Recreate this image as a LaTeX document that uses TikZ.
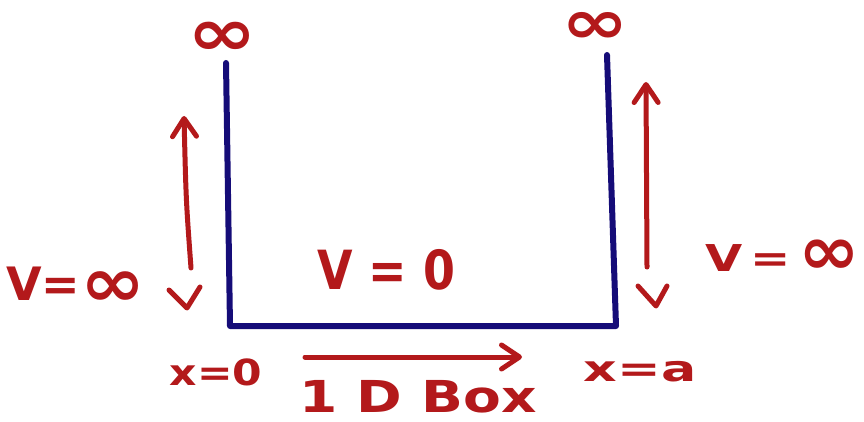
\documentclass[tikz,border=0pt]{standalone}
\usepackage{fontspec}
\usepackage{graphicx}
\setmainfont{DejaVu Sans}
\usetikzlibrary{arrows.meta}
\definecolor{inkred}{HTML}{B3191B}
\definecolor{inkblue}{HTML}{150C78}
\newcommand\Inf[2]{\scalebox{#1}[#2]{∞}}
\newcommand\hw[2]{\scalebox{#1}[1]{#2}}
\tikzset{
  wall/.style={draw=inkblue, line width=6pt, line join=round, line cap=round},
  pen/.style={draw=inkred, line width=5pt, line cap=round, line join=round},
  penarrow/.style={pen, -{Straight Barb[length=18pt, width=24pt, line width=5pt, round]}},
  lbl/.style={text=inkred, font=\bfseries\fontsize{#1}{#1}\selectfont, inner sep=0pt},
}
\begin{document}
\begin{tikzpicture}[x=1pt, y=-1pt]
\useasboundingbox (0,0) rectangle (864,422);
% the box
\coordinate (lt) at (226,63);
\coordinate (lb) at (230,326);
\coordinate (rb) at (616,326);
\coordinate (rt) at (607,55);
\draw[wall] (lt) -- (lb) -- (rb) -- (rt);
% infinity labels at top
\node[lbl=44] (inftyL) at (222,39) {\Inf{1.9}{1.5}};
\node[lbl=30] (inftyR) at (595,28) {\Inf{2.7}{2.05}};
% left double arrow
\coordinate (la1) at (191,268);
\coordinate (la2) at (184,116);
\draw[penarrow] (la1) .. controls (186,200) .. (la2);
\coordinate (lc1) at (169,290);
\coordinate (lc2) at (187,308);
\coordinate (lc3) at (200,287);
\draw[pen] (lc1) -- (lc2) -- (lc3);
% right double arrow
\coordinate (ra1) at (647,267);
\coordinate (ra2) at (646,82);
\draw[penarrow] (ra1) -- (ra2);
\coordinate (rc1) at (638,286);
\coordinate (rc2) at (656,306);
\coordinate (rc3) at (667,286);
\draw[pen] (rc1) -- (rc2) -- (rc3);
% labels
\node[lbl=46] (vleft) at (76,287) {V=\raisebox{-6pt}{\Inf{1.7}{1.5}}};
\node[lbl=37] (vright) at (783,257) {\hw{1.3}{V\,=\,}\raisebox{-3pt}{\Inf{2.0}{1.85}}};
\node[lbl=54] (vzero) at (386,270) {\hw{0.85}{V = 0}};
\node[lbl=36] (xzero) at (216,372) {\hw{1.18}{x=0}};
\node[lbl=36] (xa) at (640,372) {\hw{1.45}{x=a}};
% bottom arrow
\coordinate (ba1) at (305,357);
\coordinate (ba2) at (522,357);
\draw[penarrow] (ba1) -- (ba2);
\node[lbl=44] (boxlbl) at (418,397) {\hw{1.25}{1 D Box}};
\end{tikzpicture}
\end{document}
